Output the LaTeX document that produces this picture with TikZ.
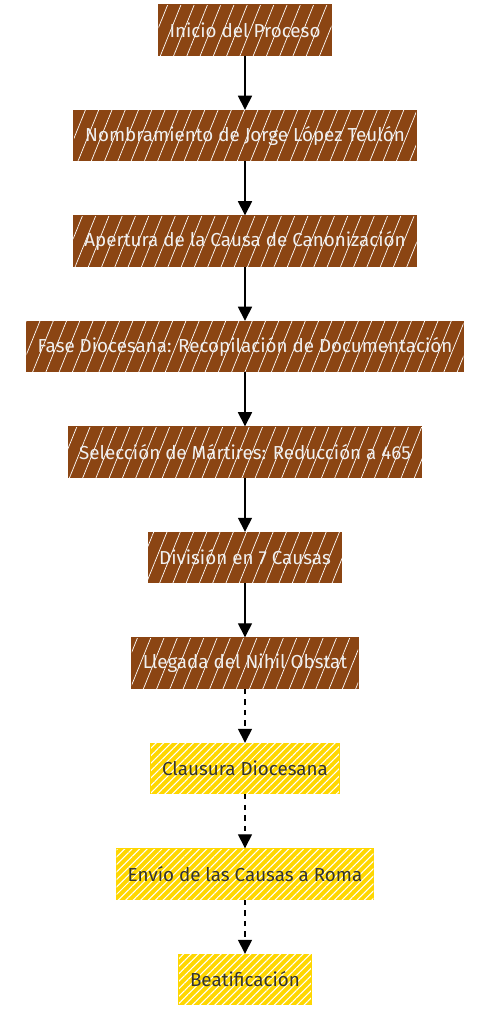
\documentclass[tikz,border=0pt]{standalone}
\usepackage{fontspec}
\setmainfont{Fira Sans}
\usetikzlibrary{arrows.meta,patterns.meta}
\definecolor{causebrown}{HTML}{8B4513}
\definecolor{causegold}{HTML}{FFD700}
\tikzstyle{donenode}=[draw=causebrown,%
                      fill=causebrown,%
                      rectangle,%
                      text=white!94!black,%
                      font=\fontsize{10.7}{12}\selectfont,%
                      minimum height = 1.0cm,%
                      inner xsep    = 0.22cm,%
                      postaction={pattern={Lines[angle=68,distance=7pt,line width=0.4pt]},pattern color=white,fill opacity=0.18},%
                      node distance = 2.11cm]
\tikzstyle{pendingnode}=[draw=causegold,fill=causegold,rectangle,text=black!80,font=\fontsize{10.7}{12}\selectfont,minimum height=1.0cm,inner xsep=0.22cm,postaction={pattern={Lines[angle=45,distance=3pt,line width=0.6pt]},pattern color=white,fill opacity=0.55},node distance=2.11cm]
\begin{document}
\begin{tikzpicture}[>={Triangle[length=8pt,width=8pt]},line width=0.8pt]
            \useasboundingbox (0,0) rectangle (9.66,-20.22);
            \node[donenode] (a) at (4.9,-0.6) {Inicio del Proceso};
            \node[donenode][below of=a]  (b) {Nombramiento de Jorge López Teulón};
            \node[donenode][below of=b]  (c) {Apertura de la Causa de Canonización};
            \node[donenode][below of=c]  (d) {Fase Diocesana: Recopilación de Documentación};
            \node[donenode][below of=d]  (e) {Selección de Mártires: Reducción a 465};
            \node[donenode][below of=e]  (f) {División en 7 Causas};
            \node[donenode][below of=f]  (g) {Llegada del Nihil Obstat};
            \node[pendingnode][below of=g]  (h) {Clausura Diocesana};
            \node[pendingnode][below of=h]  (i) {Envío de las Causas a Roma};
            \node[pendingnode][below of=i]  (j) {Beatificación};
            \draw [->] (a.south) -- (b.north);
            \draw [->] (b.south) -- (c.north);
            \draw [->] (c.south) -- (d.north);
            \draw [->] (d.south) -- (e.north);
            \draw [->] (e.south) -- (f.north);
            \draw [->] (f.south) -- (g.north);
            \draw [->,dashed] (g.south) -- (h.north);
            \draw [->,dashed] (h.south) -- (i.north);
            \draw [->,dashed] (i.south) -- (j.north);
  \end{tikzpicture}
\end{document}
